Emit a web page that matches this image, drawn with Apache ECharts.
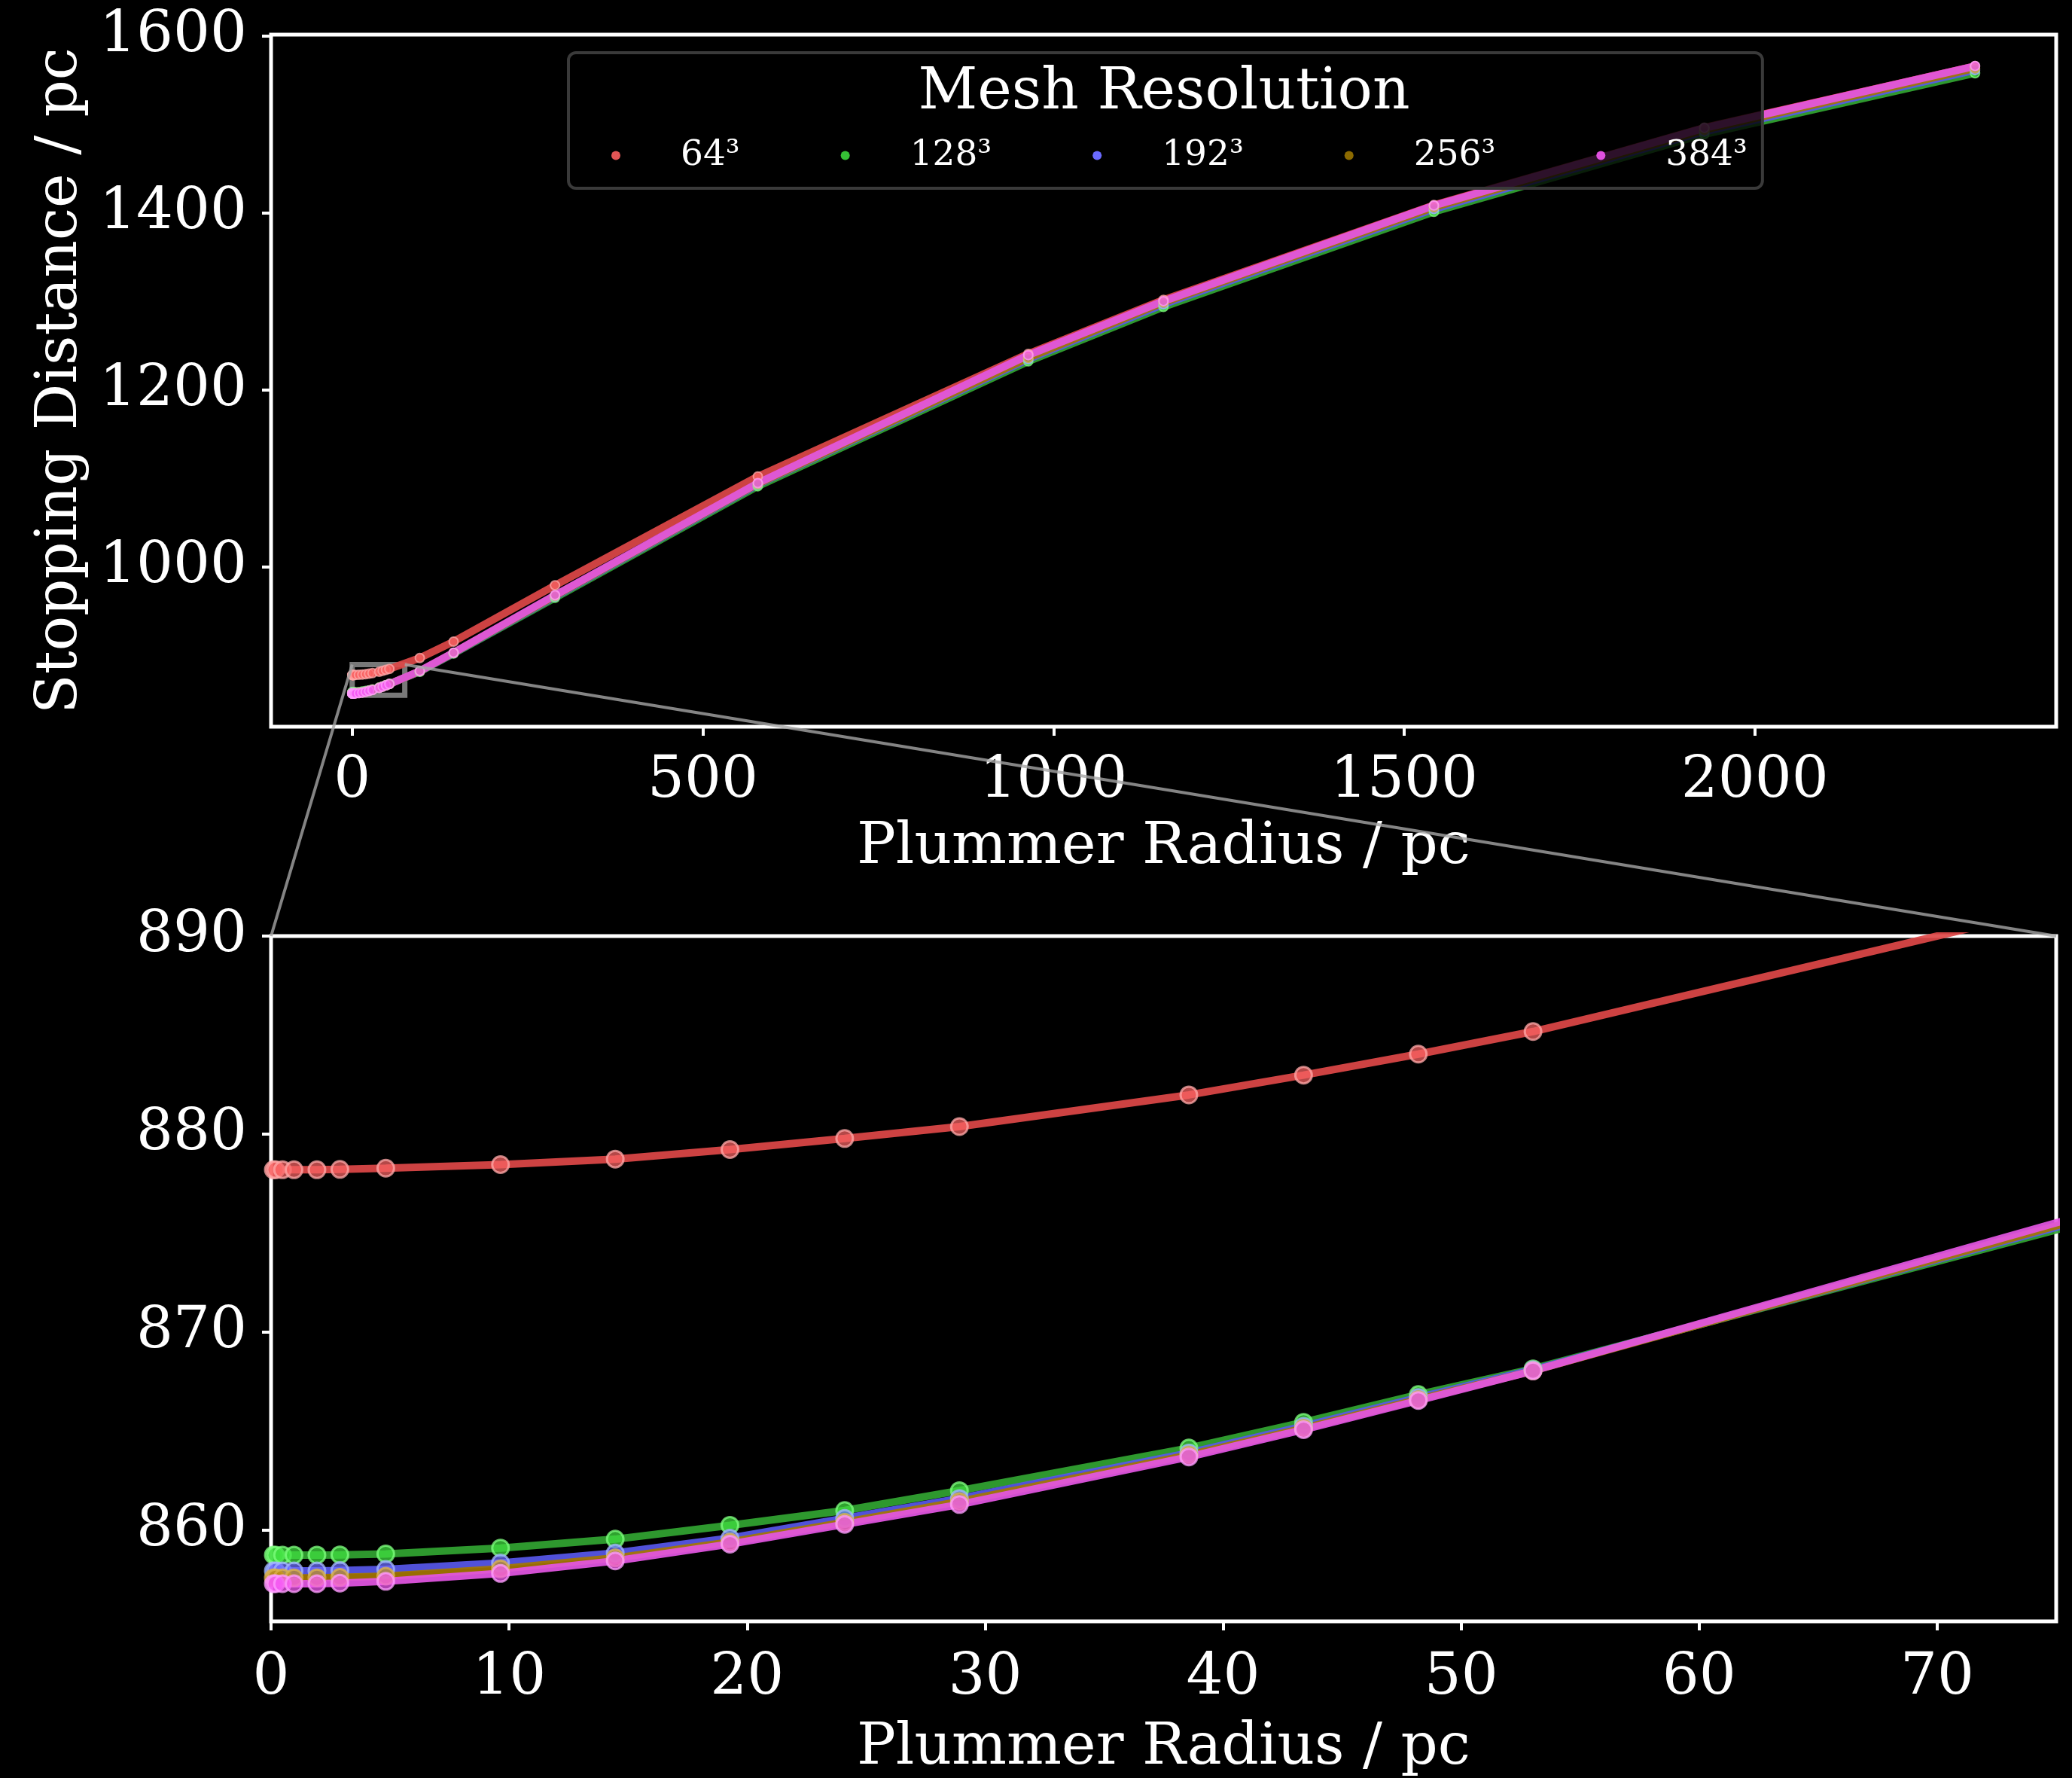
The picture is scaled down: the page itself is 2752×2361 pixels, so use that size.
<!DOCTYPE html>
<html><head><meta charset="utf-8">
<script src="https://cdn.jsdelivr.net/npm/echarts@6/dist/echarts.min.js"></script>
<style>html,body{margin:0;padding:0;background:#000}#c{width:2752px;height:2361px}</style>
</head><body><div id="c"></div>
<script>
// Plummer radius values (pc)
const radius = [0.0964, 0.1928, 0.482, 0.964, 1.928, 2.892, 4.82, 9.64, 14.46, 19.28, 24.1, 28.92, 38.56, 43.38, 48.2, 53.02, 96.4, 144.6, 289.2, 578.4, 964, 1156.8, 1542.4, 1928, 2314];
// Stopping distance (pc) per mesh resolution
const res64  = [878.2, 878.2, 878.2, 878.2, 878.2, 878.22, 878.28, 878.46, 878.74, 879.22, 879.78, 880.38, 881.98, 882.98, 884.04, 885.18, 897.5, 916, 979.5, 1102.5, 1241, 1302, 1409, 1496.5, 1566];
const res128 = [858.75, 858.75, 858.75, 858.75, 858.75, 858.76, 858.8, 859.1, 859.55, 860.25, 861.0, 862.0, 864.15, 865.45, 866.85, 868.15, 882, 902.5, 965.5, 1091.5, 1232.5, 1294, 1401.5, 1489, 1558];
const res192 = [857.95, 857.95, 857.95, 857.95, 857.95, 857.97, 858.02, 858.35, 858.85, 859.6, 860.6, 861.6, 863.9, 865.25, 866.7, 868.1, 882.3, 903, 967, 1093.5, 1235, 1297, 1404.5, 1492, 1561.5];
const res256 = [857.6, 857.6, 857.6, 857.6, 857.6, 857.62, 857.68, 858.05, 858.6, 859.4, 860.4, 861.45, 863.8, 865.15, 866.6, 868.05, 882.5, 903.3, 967.8, 1094.2, 1236.5, 1299, 1406.5, 1494, 1563.5];
const res384 = [857.3, 857.3, 857.3, 857.3, 857.3, 857.33, 857.42, 857.82, 858.45, 859.3, 860.3, 861.3, 863.7, 865.08, 866.55, 868.05, 882.8, 903.5, 968.5, 1095, 1239.5, 1300.5, 1408.5, 1496, 1566];
const seriesNames = ['64³', '128³', '192³', '256³', '384³'];
const seriesValues = [res64, res128, res192, res256, res384];

const topXTicks = [0, 500, 1000, 1500, 2000];
const topYTicks = [1000, 1200, 1400, 1600];
const zoomX = [0, 75];
const zoomY = [855.4, 890];
const bottomXTicks = [0, 10, 20, 30, 40, 50, 60, 70];
const bottomYTicks = [860, 870, 880, 890];

const lineColors = ['rgba(222,72,72,0.92)', 'rgba(50,165,50,0.92)', 'rgba(88,88,235,0.92)', 'rgba(165,118,0,0.92)', 'rgba(228,86,228,0.92)'];
const markerFill = ['rgba(250,100,100,0.72)', 'rgba(65,225,65,0.72)', 'rgba(110,110,255,0.72)', 'rgba(190,140,20,0.72)', 'rgba(245,90,245,0.72)'];
const markerEdge = ['rgba(255,170,170,0.75)', 'rgba(130,255,130,0.75)', 'rgba(165,185,255,0.75)', 'rgba(220,180,80,0.75)', 'rgba(255,160,255,0.75)'];
const legendColors = ['#e25555', '#35c035', '#6a6aff', '#8c6a00', '#e050e0'];

const FONT = 'DejaVu Serif';
const chart = echarts.init(document.getElementById('c'), null, {renderer: 'canvas'});

// autoscale like matplotlib (5% margins), including the zoom-indicator rectangle
const allVals = seriesValues.flat();
const yLo = Math.min(zoomY[0], ...allVals), yHi = Math.max(...allVals);
const xLo = Math.min(zoomX[0], ...radius), xHi = Math.max(...radius);
const topY = [yLo - 0.05 * (yHi - yLo), yHi + 0.05 * (yHi - yLo)];
const topX = [xLo - 0.05 * (xHi - xLo), xHi + 0.05 * (xHi - xLo)];

function mkSeries(i, g) {
  return {
    name: seriesNames[i], type: 'line', xAxisIndex: g, yAxisIndex: g,
    data: radius.map((x, j) => [x, seriesValues[i][j]]),
    smooth: false,
    symbol: 'circle', symbolSize: g === 0 ? 12 : 22,
    lineStyle: {color: lineColors[i], width: g === 0 ? 10 : 10},
    itemStyle: {color: markerFill[i], borderColor: markerEdge[i], borderWidth: g === 0 ? 2 : 3},
    emphasis: {disabled: true}, clip: true, silent: true, z: 2
  };
}

const tickStyle = {length: 12, lineStyle: {color: '#fff', width: 4}};
const labelStyle = {color: '#fff', fontFamily: FONT, fontSize: 77, formatter: v => String(v)};
const nameStyle = {color: '#fff', fontFamily: FONT, fontSize: 77};
const noLine = {show: false, onZero: false};

const series = [];
for (let g = 0; g < 2; g++) for (let i = 0; i < 5; i++) series.push(mkSeries(i, g));
series.push({
  type: 'line', xAxisIndex: 0, yAxisIndex: 0, data: [], z: 5, silent: true,
  markArea: {silent: true, itemStyle: {color: 'rgba(0,0,0,0)', borderColor: 'rgba(200,200,200,0.6)', borderWidth: 7},
    data: [[{coord: [zoomX[0], zoomY[0]]}, {coord: [zoomX[1], zoomY[1]]}]]}
});

chart.setOption({
  backgroundColor: '#000',
  animation: false,
  grid: [
    {left: 360, right: 21, top: 46, height: 919, show: true, borderColor: '#fff', borderWidth: 5, backgroundColor: '#000'},
    {left: 360, right: 21, top: 1243, height: 916, show: true, borderColor: '#fff', borderWidth: 5, backgroundColor: '#000'}
  ],
  legend: {
    left: 755, top: 70, orient: 'horizontal',
    padding: [113, 20, 20, 57],
    itemWidth: 12, itemHeight: 12, itemGap: 134,
    backgroundColor: 'rgba(0,0,0,0.8)', borderColor: '#3a3a3a', borderWidth: 4, borderRadius: 10,
    formatter: name => '{gap|}' + name,
    textStyle: {color: '#fff', fontFamily: FONT, fontSize: 47, rich: {gap: {width: 75}}},
    selectedMode: false, z: 10,
    data: seriesNames.map((n, i) => ({name: n, icon: 'circle', itemStyle: {color: legendColors[i], borderWidth: 0}}))
  },
  xAxis: [
    {type: 'value', gridIndex: 0, min: topX[0], max: topX[1],
      axisLine: noLine, splitLine: {show: false},
      axisTick: Object.assign({show: true, customValues: topXTicks}, tickStyle),
      axisLabel: Object.assign({customValues: topXTicks, margin: 34}, labelStyle),
      name: 'Plummer Radius / pc', nameLocation: 'middle', nameGap: 122, nameTextStyle: nameStyle},
    {type: 'value', gridIndex: 1, min: zoomX[0], max: zoomX[1],
      axisLine: noLine, splitLine: {show: false},
      axisTick: Object.assign({show: true, customValues: bottomXTicks}, tickStyle),
      axisLabel: Object.assign({customValues: bottomXTicks, margin: 37}, labelStyle),
      name: 'Plummer Radius / pc', nameLocation: 'middle', nameGap: 130, nameTextStyle: nameStyle}
  ],
  yAxis: [
    {type: 'value', gridIndex: 0, min: topY[0], max: topY[1],
      axisLine: noLine, splitLine: {show: false},
      axisTick: Object.assign({show: true, customValues: topYTicks}, tickStyle),
      axisLabel: Object.assign({customValues: topYTicks, margin: 32}, labelStyle),
      name: 'Stopping Distance / pc', nameLocation: 'middle', nameRotate: 90, nameGap: 241, nameTextStyle: nameStyle},
    {type: 'value', gridIndex: 1, min: zoomY[0], max: zoomY[1],
      axisLine: noLine, splitLine: {show: false},
      axisTick: Object.assign({show: true, customValues: bottomYTicks}, tickStyle),
      axisLabel: Object.assign({customValues: bottomYTicks, margin: 32}, labelStyle)}
  ],
  series: series
});

// legend title and zoom connector lines, positioned through the axes' own scales
const p1 = chart.convertToPixel({xAxisIndex: 0, yAxisIndex: 0}, [zoomX[0], zoomY[1]]);
const p2 = chart.convertToPixel({xAxisIndex: 0, yAxisIndex: 0}, [zoomX[1], zoomY[1]]);
const q1 = chart.convertToPixel({xAxisIndex: 1, yAxisIndex: 1}, [zoomX[0], zoomY[1]]);
const q2 = chart.convertToPixel({xAxisIndex: 1, yAxisIndex: 1}, [zoomX[1], zoomY[1]]);
chart.setOption({
  graphic: [
    {id: 'c1', type: 'line', z: 50, silent: true, shape: {x1: p1[0], y1: p1[1], x2: q1[0], y2: q1[1]}, style: {stroke: 'rgba(165,165,165,0.8)', lineWidth: 4}},
    {id: 'c2', type: 'line', z: 50, silent: true, shape: {x1: p2[0], y1: p2[1], x2: q2[0], y2: q2[1]}, style: {stroke: 'rgba(165,165,165,0.8)', lineWidth: 4}},
    {id: 'lt', type: 'text', z: 100, x: 1546, y: 124, silent: true,
      style: {text: 'Mesh Resolution', align: 'center', verticalAlign: 'middle', font: '77px "DejaVu Serif"', fill: '#fff'}}
  ]
});
</script></body></html>
